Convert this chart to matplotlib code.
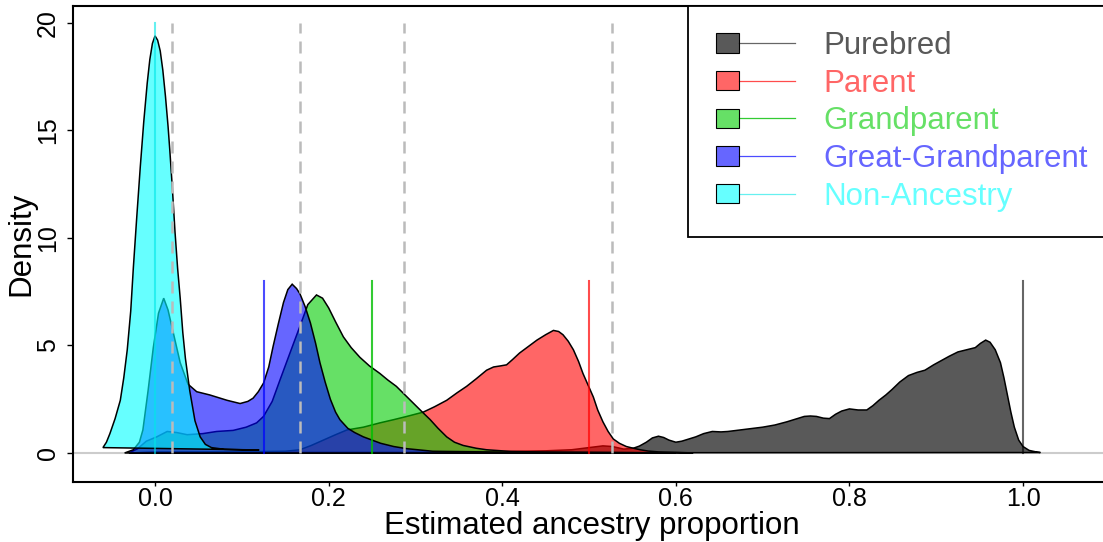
import numpy as np
import matplotlib.pyplot as plt
from matplotlib.patches import Rectangle
from matplotlib.lines import Line2D
from matplotlib.legend_handler import HandlerBase

plt.rcParams["font.family"] = ["Liberation Sans", "DejaVu Sans"]

# ─────────────────────────────────────────────
# DATA (density curves)
# ─────────────────────────────────────────────

categories = ["Purebred", "Parent", "Grandparent", "Great-Grandparent", "Non-Ancestry"]
expected = [1.0, 0.5, 0.25, 0.125, 0.0]
expected_top = [8, 8, 8, 8, 20]
thresholds = [0.02, 0.167, 0.287, 0.527]
threshold_top = 20

purebred = [
    (-0.03, 0.0), (0.0, 0.04), (0.1, 0.04), (0.2, 0.05), (0.3, 0.05), (0.4, 0.07),
    (0.45, 0.1), (0.48, 0.15), (0.5, 0.25), (0.516, 0.33), (0.527, 0.3), (0.54, 0.18),
    (0.551, 0.22), (0.558, 0.32), (0.566, 0.5), (0.573, 0.7), (0.58, 0.78), (0.586, 0.72),
    (0.592, 0.6), (0.6, 0.5), (0.607, 0.55), (0.615, 0.65), (0.623, 0.75), (0.632, 0.9),
    (0.642, 1.0), (0.652, 0.98), (0.66, 1.0), (0.67, 1.05), (0.68, 1.1), (0.69, 1.15),
    (0.70, 1.2), (0.714, 1.3), (0.728, 1.45), (0.74, 1.6), (0.748, 1.7), (0.755, 1.72),
    (0.762, 1.7), (0.77, 1.62), (0.777, 1.6), (0.784, 1.8), (0.791, 1.95), (0.8, 2.05),
    (0.81, 2.0), (0.82, 2.0), (0.827, 2.2), (0.834, 2.45), (0.842, 2.7), (0.849, 2.95),
    (0.858, 3.3), (0.868, 3.6), (0.878, 3.75), (0.887, 3.85), (0.897, 4.1), (0.906, 4.3),
    (0.915, 4.5), (0.925, 4.7), (0.935, 4.8), (0.945, 4.9), (0.951, 5.1), (0.957, 5.25),
    (0.962, 5.15), (0.968, 4.8), (0.974, 4.2), (0.978, 3.5), (0.982, 2.7), (0.986, 1.9),
    (0.99, 1.2), (0.995, 0.6), (1.0, 0.3), (1.007, 0.12), (1.015, 0.05), (1.02, 0.02),
]

parent = [
    (-0.03, 0.0), (0.0, 0.04), (0.1, 0.05), (0.15, 0.08), (0.167, 0.15), (0.18, 0.35),
    (0.194, 0.6), (0.208, 0.85), (0.221, 1.07), (0.24, 1.2), (0.259, 1.4), (0.275, 1.55),
    (0.29, 1.7), (0.309, 1.9), (0.322, 2.15), (0.336, 2.45), (0.348, 2.8), (0.359, 3.1),
    (0.37, 3.45), (0.382, 3.85), (0.39, 4.0), (0.398, 4.05), (0.405, 4.1), (0.412, 4.35),
    (0.42, 4.65), (0.43, 4.95), (0.44, 5.25), (0.45, 5.5), (0.459, 5.7), (0.465, 5.65),
    (0.47, 5.5), (0.476, 5.2), (0.482, 4.8), (0.488, 4.25), (0.493, 3.7), (0.499, 3.15),
    (0.505, 2.6), (0.51, 2.0), (0.516, 1.45), (0.522, 1.0), (0.528, 0.65), (0.535, 0.45),
    (0.543, 0.3), (0.551, 0.22), (0.559, 0.15), (0.568, 0.09), (0.58, 0.05), (0.6, 0.03),
    (0.62, 0.0),
]

grandparent = [
    (-0.03, 0.0), (-0.02, 0.2), (-0.01, 0.55), (0.002, 0.75), (0.014, 1.0), (0.025, 0.95),
    (0.037, 0.85), (0.055, 0.9), (0.071, 1.0), (0.09, 1.05), (0.105, 1.2), (0.117, 1.4),
    (0.125, 1.7), (0.135, 2.4), (0.144, 3.4), (0.155, 4.6), (0.167, 5.9), (0.176, 6.9),
    (0.186, 7.35), (0.193, 7.2), (0.2, 6.75), (0.208, 6.1), (0.217, 5.4), (0.226, 4.9),
    (0.236, 4.45), (0.247, 4.05), (0.259, 3.7), (0.268, 3.4), (0.278, 3.1), (0.288, 2.7),
    (0.298, 2.3), (0.308, 1.9), (0.317, 1.55), (0.326, 1.15), (0.336, 0.75), (0.345, 0.5),
    (0.355, 0.35), (0.37, 0.22), (0.382, 0.15), (0.41, 0.07), (0.45, 0.04), (0.55, 0.02),
    (0.6, 0.0),
]

great_grandparent = [
    (-0.035, 0.0), (-0.025, 0.15), (-0.018, 0.5), (-0.014, 1.07), (-0.008, 2.9),
    (-0.002, 4.9), (0.004, 6.5), (0.01, 7.2), (0.015, 6.65), (0.021, 5.6), (0.029, 4.2),
    (0.038, 3.2), (0.048, 2.85), (0.063, 2.7), (0.083, 2.45), (0.098, 2.3), (0.107, 2.4),
    (0.113, 2.55), (0.119, 2.85), (0.125, 3.25), (0.131, 4.0), (0.136, 4.95), (0.142, 6.0),
    (0.148, 7.0), (0.153, 7.6), (0.158, 7.85), (0.163, 7.65), (0.167, 7.4), (0.173, 6.8),
    (0.179, 6.05), (0.185, 5.1), (0.19, 4.2), (0.196, 3.3), (0.202, 2.5), (0.208, 1.9),
    (0.213, 1.55), (0.222, 1.15), (0.23, 0.95), (0.24, 0.75), (0.25, 0.6), (0.26, 0.45),
    (0.275, 0.3), (0.29, 0.2), (0.32, 0.08), (0.4, 0.04), (0.5, 0.02), (0.6, 0.0),
]

non_ancestry = [
    (-0.06, 0.25), (-0.056, 0.5), (-0.052, 0.9), (-0.046, 1.6), (-0.04, 2.45), (-0.036, 3.5),
    (-0.032, 4.8), (-0.028, 6.6), (-0.025, 8.6), (-0.021, 11.0), (-0.017, 13.3),
    (-0.013, 15.4), (-0.009, 17.2), (-0.006, 18.3), (-0.003, 19.05), (0.0, 19.4),
    (0.003, 19.2), (0.006, 18.7), (0.009, 17.8), (0.012, 16.6), (0.015, 15.2), (0.017, 14.1),
    (0.02, 12.3), (0.023, 10.3), (0.026, 8.6), (0.029, 7.2), (0.032, 5.6), (0.035, 4.4),
    (0.04, 2.9), (0.046, 1.5), (0.052, 0.75), (0.058, 0.4), (0.065, 0.25), (0.08, 0.17),
    (0.1, 0.15), (0.12, 0.14),
]

curves = [purebred, parent, grandparent, great_grandparent, non_ancestry]

fill_colors = [(0, 0, 0, 0.65), (1, 0, 0, 0.6), (0, 0.8, 0, 0.6), (0, 0, 1, 0.6), (0, 1, 1, 0.6)]
line_colors = [(0, 0, 0, 0.6), (1, 0, 0, 0.7), (0, 0.75, 0, 0.8), (0, 0, 1, 0.7), (0, 0.9, 0.9, 0.6)]


# ─────────────────────────────────────────────
# LEGEND HANDLE (box + line, like base R)
# ─────────────────────────────────────────────

class LegendKey:
    def __init__(self, fill, line):
        self.fill = fill
        self.line = line


class HandlerBoxLine(HandlerBase):
    def create_artists(self, legend, orig_handle, xdescent, ydescent,
                       width, height, fontsize, trans):
        x0 = -xdescent + 0.037 * width
        w = 0.28 * width
        h = 0.88 * height
        y0 = -ydescent + (height - h) / 2
        box = Rectangle((x0, y0), w, h, facecolor=orig_handle.fill,
                        edgecolor="black", lw=0.8, transform=trans)
        ln = Line2D([x0 + w, -xdescent + width],
                    [height / 2 - ydescent] * 2,
                    color=orig_handle.line, lw=0.9, transform=trans)
        return [ln, box]


# ─────────────────────────────────────────────
# PLOT
# ─────────────────────────────────────────────

fig = plt.figure(figsize=(11.03, 5.42), dpi=100)
ax = fig.add_axes([73 / 1103, 60 / 542, 1037 / 1103, 476 / 542])

ax.axhline(0, color="#cccccc", lw=1.5, zorder=0)

for pts, fc in zip(curves, fill_colors):
    xy = np.array(pts)
    ax.fill(xy[:, 0], xy[:, 1], facecolor=fc, edgecolor="black", lw=1.1)

for xv in thresholds:
    ax.plot([xv, xv], [0, threshold_top], color="#bbbbbb", lw=1.8,
            dashes=(4.8, 3.2))

for xv, top, lc in zip(expected, expected_top, line_colors):
    ax.plot([xv, xv], [0, top], color=lc, lw=1.5)

ax.set_xlim(-0.0945, 1.1002)
ax.set_ylim(-1.35, 20.79)
ax.set_xticks([0.0, 0.2, 0.4, 0.6, 0.8, 1.0])
ax.set_xticklabels(["0.0", "0.2", "0.4", "0.6", "0.8", "1.0"])
ax.set_yticks([0, 5, 10, 15, 20])

ax.tick_params(axis="x", direction="out", length=3, width=1, pad=0.3, labelsize=18)
ax.tick_params(axis="y", direction="out", length=4.3, width=1, pad=5, labelsize=18,
               labelrotation=90)
for lbl in ax.get_yticklabels():
    lbl.set_va("center")

for sp in ax.spines.values():
    sp.set_linewidth(1.5)
    sp.set_color("black")

ax.set_xlabel("Estimated ancestry proportion", fontsize=22.5)
ax.xaxis.set_label_coords(0.5, -0.061)
ax.xaxis.label.set_va("top")
ax.set_ylabel("Density", fontsize=22.5)
ax.yaxis.set_label_coords(-0.0357, 0.5)

keys = [LegendKey(fc, lc) for fc, lc in zip(fill_colors, line_colors)]
leg = ax.legend(keys, categories, handler_map={LegendKey: HandlerBoxLine()},
                loc="upper left", bbox_to_anchor=((688 - 73) / 1037, 1.0),
                borderaxespad=0, fontsize=22.5, frameon=True, fancybox=False,
                framealpha=1, edgecolor="black", borderpad=0.8,
                labelspacing=0.245, handlelength=2.62, handletextpad=0.9)
leg.get_frame().set_linewidth(1.3)
for txt, fc in zip(leg.get_texts(), fill_colors):
    txt.set_color(fc)

plt.savefig("out.png", dpi=100)
